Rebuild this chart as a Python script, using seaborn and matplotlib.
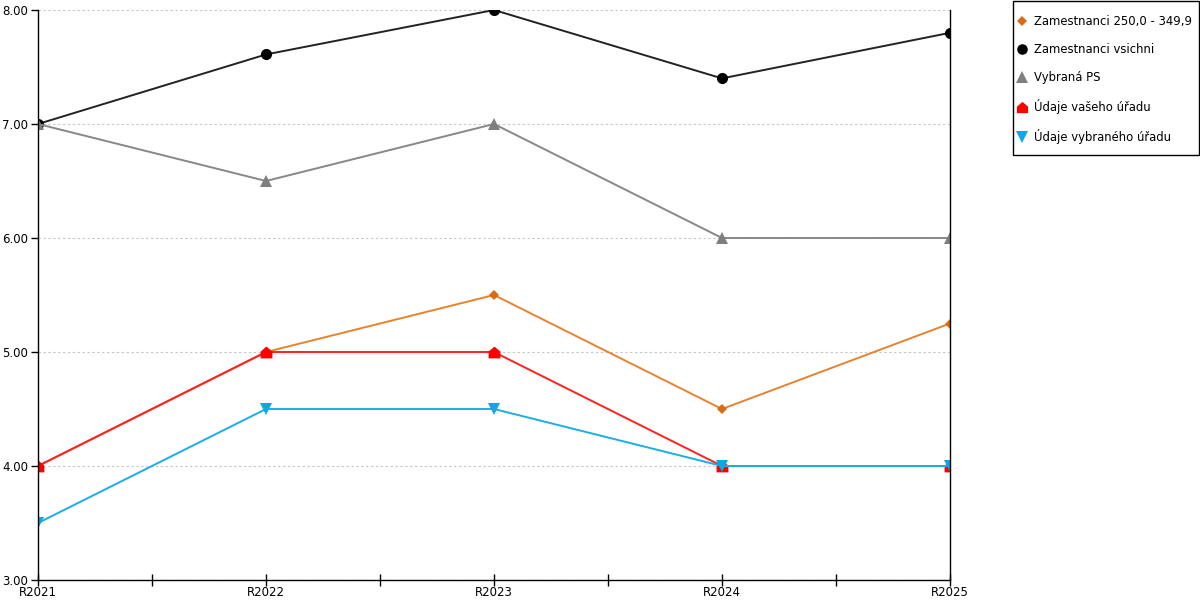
import numpy as np
import pandas as pd
import matplotlib
matplotlib.use("Agg")
import matplotlib.pyplot as plt
from matplotlib.lines import Line2D
from matplotlib.patches import Rectangle
import seaborn as sns

# chart data
years = ["R2021", "R2022", "R2023", "R2024", "R2025"]
zam_250 = [4.0, 5.0, 5.5, 4.5, 5.25]
zam_all = [7.0, 7.61, 8.0, 7.40, 7.80]
vybrana_ps = [7.0, 6.5, 7.0, 6.0, 6.0]
vaseho_uradu = [4.0, 5.0, 5.0, 4.0, 4.0]
vybraneho_uradu = [3.5, 4.5, 4.5, 4.0, 4.0]

series_names = ["Zamestnanci 250,0 - 349,9", "Zamestnanci vsichni", "Vybraná PS",
                "Údaje vašeho úřadu", "Údaje vybraného úřadu"]
series_vals = [zam_250, zam_all, vybrana_ps, vaseho_uradu, vybraneho_uradu]

house = [(-1, -1), (1, -1), (1, 0.15), (0, 1), (-1, 0.15), (-1, -1)]
line_colors = ["#E8822F", "#222222", "#888888", "#FF2020", "#1AAFE6"]
marker_colors = ["#DB6A10", "#000000", "#7F7F7F", "#FF0000", "#0AA8E8"]
markers = ["D", "o", "^", house, "v"]
msizes = [5.5, 8, 8.5, 8.5, 8.5]

sns.set_style("white")
plt.rcParams["font.family"] = ["DejaVu Sans"]
plt.rcParams["text.color"] = "black"
plt.rcParams["xtick.color"] = "black"
plt.rcParams["ytick.color"] = "black"

fig = plt.figure(figsize=(12, 6), dpi=100)
ax = fig.add_axes([38 / 1200, 20 / 600, 912 / 1200, 570 / 600])

for name, vals, lc, mc, mk, ms in zip(series_names, series_vals, line_colors,
                                      marker_colors, markers, msizes):
    df = pd.DataFrame({"year": years, "value": vals})
    sns.lineplot(data=df, x="year", y="value", ax=ax, color=lc, linewidth=1.4,
                 marker=mk, markersize=ms, markerfacecolor=mc,
                 markeredgecolor=mc, markeredgewidth=0, sort=False)

ax.set_xlim(0, len(years) - 1)
ax.set_ylim(3, 8)
ax.set_yticks(np.arange(3, 8.5, 1))
ax.set_yticklabels([f"{v:.2f}" for v in np.arange(3, 8.5, 1)])
ax.set_xticks(range(len(years)))
ax.set_xticklabels(years)
ax.set_xticks(np.arange(0.5, len(years) - 1, 1), minor=True)
ax.set_xlabel("")
ax.set_ylabel("")

ax.yaxis.grid(True, color="#C8C8C8", linestyle=(0, (2.2, 2.2)), linewidth=0.8)
ax.xaxis.grid(False)
ax.set_axisbelow(True)

for side in ["left", "bottom", "right"]:
    ax.spines[side].set_visible(True)
    ax.spines[side].set_color("black")
    ax.spines[side].set_linewidth(1.0)
ax.spines["top"].set_visible(False)

ax.tick_params(axis="x", which="both", direction="inout", length=9, width=1,
               color="black", labelsize=8.5, pad=0, bottom=True)
ax.tick_params(axis="y", direction="out", length=5, width=1, color="black",
               labelsize=8.5, pad=2, left=True, right=False)

# legend box drawn separately so padding can differ vertically / horizontally
fig.add_artist(Rectangle((1013 / 1200, 1 - 155 / 600), 186 / 1200, 154 / 600,
                         transform=fig.transFigure, facecolor="white",
                         edgecolor="black", linewidth=1.0))
handles = [Line2D([0], [0], linestyle="none", marker=mk, markersize=ms * 0.95,
                  markerfacecolor=mc, markeredgecolor=mc, markeredgewidth=0)
           for mk, mc, ms in zip(markers, marker_colors, msizes)]
leg = fig.legend(handles, series_names, loc="upper left",
                 bbox_to_anchor=(1017 / 1200, 1 - 15 / 600), fontsize=8.4,
                 frameon=False, labelspacing=1.29, handlelength=0.8,
                 handletextpad=0.7, borderpad=0, borderaxespad=0)

fig.savefig("out.png", dpi=100)
